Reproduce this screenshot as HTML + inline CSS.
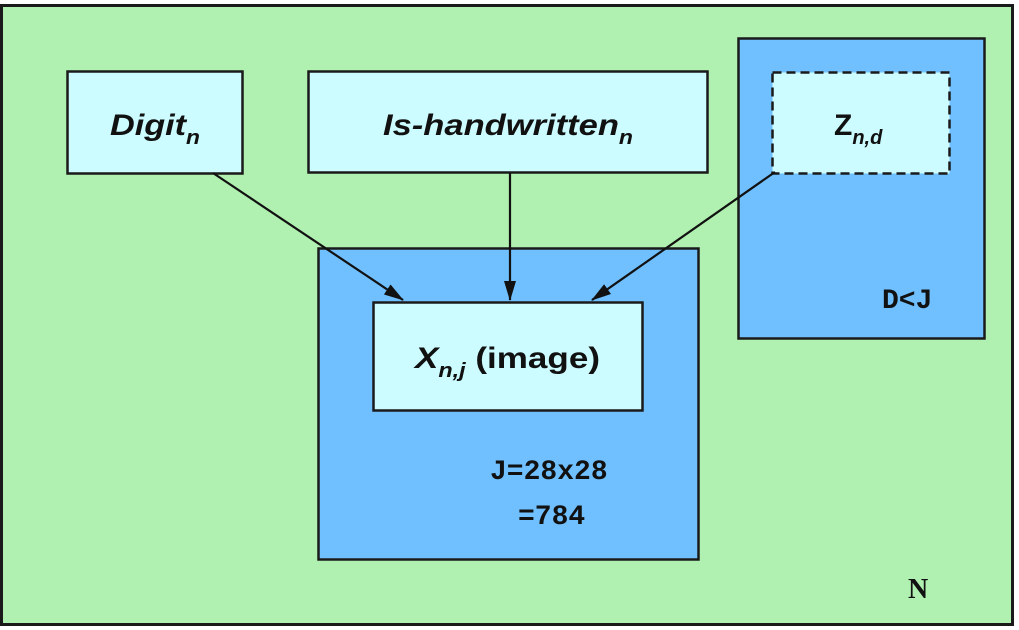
<!DOCTYPE html>
<html><head><style>
html,body{margin:0;padding:0;background:#fff;}
svg{display:block;}
.lb{font-family:"Liberation Sans",sans-serif;font-weight:bold;font-style:italic;font-size:30px;fill:#111;}
.mono{font-family:"Liberation Mono",monospace;font-weight:bold;font-size:28px;fill:#111;}
</style></head><body>
<svg width="1019" height="630" viewBox="0 0 1019 630" xmlns="http://www.w3.org/2000/svg">
<defs><marker id="a" markerWidth="20" markerHeight="12" refX="19" refY="6" orient="auto" markerUnits="userSpaceOnUse"><path d="M0,0 L20,6 L0,12 z" fill="#111"/></marker></defs>
<rect x="1.5" y="5.5" width="1011" height="619" fill="#b0f0b0" stroke="#1a1a1a" stroke-width="3"/>
<rect x="738.5" y="38.5" width="246" height="300" fill="#70c0ff" stroke="#1a1a1a" stroke-width="2.5"/>
<rect x="318.5" y="248.5" width="380" height="311" fill="#70c0ff" stroke="#1a1a1a" stroke-width="2.5"/>
<rect x="67.5" y="71.5" width="175" height="102" fill="#ccfcff" stroke="#1a1a1a" stroke-width="2.5"/>
<rect x="308.5" y="71.5" width="399" height="101" fill="#ccfcff" stroke="#1a1a1a" stroke-width="2.5"/>
<rect x="772.5" y="72.5" width="177" height="101" fill="#ccfcff" stroke="#1a1a1a" stroke-width="2.5" stroke-dasharray="9,5"/>
<rect x="373.5" y="302.5" width="269" height="108" fill="#ccfcff" stroke="#1a1a1a" stroke-width="2.5"/>
<line x1="213" y1="173" x2="403" y2="300" stroke="#111" stroke-width="2.2" marker-end="url(#a)"/>
<line x1="510" y1="173" x2="510" y2="300" stroke="#111" stroke-width="2.2" marker-end="url(#a)"/>
<line x1="775" y1="172" x2="592" y2="300" stroke="#111" stroke-width="2.2" marker-end="url(#a)"/>
<text x="110" y="135" class="lb" textLength="90" lengthAdjust="spacingAndGlyphs">Digit<tspan font-size="20" dy="9">n</tspan></text>
<text x="383" y="135" class="lb" textLength="250" lengthAdjust="spacingAndGlyphs">Is-handwritten<tspan font-size="20" dy="9">n</tspan></text>
<text x="834" y="135" class="lb" style="font-style:normal">Z<tspan font-size="20" dy="9" font-style="italic">n,d</tspan></text>
<text x="415" y="368" class="lb" textLength="185" lengthAdjust="spacingAndGlyphs">X<tspan font-size="20" dy="9">n,j</tspan><tspan dy="-9" style="font-style:normal"> (image)</tspan></text>
<text x="490" y="479" class="mono">J=28x28</text>
<text x="518" y="524" class="mono">=784</text>
<text x="882" y="308" class="mono">D&lt;J</text>
<text x="908" y="598" class="mono" style="font-family:'Liberation Serif',serif;font-size:28px">N</text>
</svg>
</body></html>
